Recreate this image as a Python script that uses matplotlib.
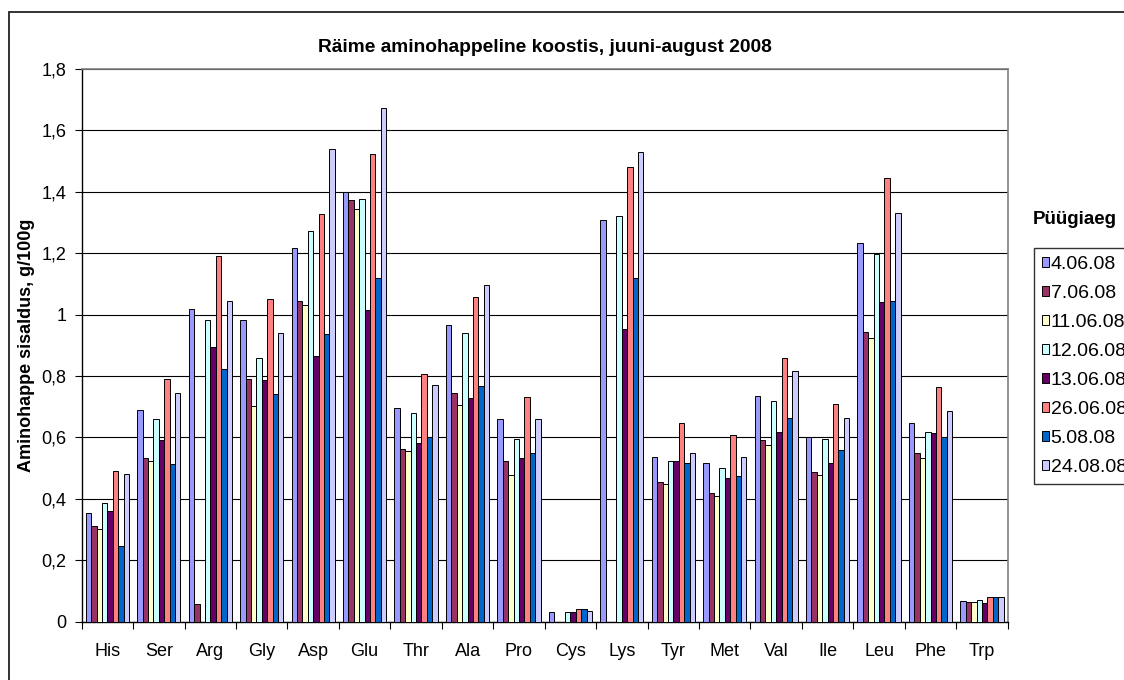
import numpy as np
import matplotlib
matplotlib.use("Agg")
import matplotlib.pyplot as plt
from matplotlib.patches import Rectangle
from matplotlib.ticker import FuncFormatter

plt.rcParams['font.family'] = ['Liberation Sans', 'DejaVu Sans']

categories = ['His', 'Ser', 'Arg', 'Gly', 'Asp', 'Glu', 'Thr', 'Ala', 'Pro',
              'Cys', 'Lys', 'Tyr', 'Met', 'Val', 'Ile', 'Leu', 'Phe', 'Trp']
dates = ['4.06.08', '7.06.08', '11.06.08', '12.06.08',
         '13.06.08', '26.06.08', '5.08.08', '24.08.08']

d0406 = [0.353, 0.691, 1.018, 0.982, 1.218, 1.401, 0.695, 0.967, 0.659,
         0.031, 1.309, 0.537, 0.518, 0.736, 0.600, 1.232, 0.646, 0.069]
d0706 = [0.313, 0.532, 0.058, 0.790, 1.046, 1.373, 0.563, 0.746, 0.523,
         0.0, 0.0, 0.455, 0.419, 0.592, 0.486, 0.944, 0.550, 0.064]
d1106 = [0.303, 0.523, 0.0, 0.704, 1.032, 1.344, 0.555, 0.705, 0.478,
         0.0, 0.0, 0.450, 0.409, 0.577, 0.478, 0.923, 0.532, 0.064]
d1206 = [0.386, 0.659, 0.982, 0.860, 1.274, 1.377, 0.681, 0.941, 0.595,
         0.031, 1.322, 0.523, 0.499, 0.718, 0.595, 1.199, 0.618, 0.072]
d1306 = [0.359, 0.591, 0.896, 0.787, 0.864, 1.014, 0.582, 0.728, 0.532,
         0.031, 0.954, 0.523, 0.468, 0.618, 0.518, 1.041, 0.614, 0.060]
d2606 = [0.491, 0.791, 1.192, 1.051, 1.327, 1.524, 0.808, 1.059, 0.731,
         0.041, 1.481, 0.646, 0.609, 0.860, 0.709, 1.445, 0.763, 0.082]
d0508 = [0.245, 0.513, 0.823, 0.741, 0.936, 1.118, 0.600, 0.768, 0.550,
         0.041, 1.118, 0.518, 0.473, 0.663, 0.559, 1.044, 0.600, 0.082]
d2408 = [0.480, 0.746, 1.046, 0.941, 1.541, 1.672, 0.772, 1.096, 0.659,
         0.036, 1.531, 0.550, 0.537, 0.818, 0.663, 1.332, 0.686, 0.082]

series = [d0406, d0706, d1106, d1206, d1306, d2606, d0508, d2408]
colors = ['#9999FF', '#993366', '#FFFFCC', '#CCFFFF',
          '#660066', '#FF8080', '#0066CC', '#CCCCFF']

W, H = 1124, 680
fig = plt.figure(figsize=(W / 100, H / 100), dpi=100)
ax = fig.add_axes([81.7 / W, 1 - 621.7 / H, (1007.7 - 81.7) / W, (621.7 - 69) / H])

# outer chart border (runs off right/bottom edge)
fig.patches.append(Rectangle((9 / W, -0.05), 1.2, 1 - 12 / H + 0.05,
                             transform=fig.transFigure, fill=False,
                             edgecolor='#222222', linewidth=1.3))

x = np.arange(len(categories))
bw = 0.105
n = len(series)
for i, (vals, c) in enumerate(zip(series, colors)):
    offs = (i - (n - 1) / 2) * bw
    ax.bar(x + offs, vals, width=bw, color=c, edgecolor='black',
           linewidth=0.7, label=dates[i], zorder=3)

ax.set_xlim(-0.5, len(categories) - 0.5)
ax.set_ylim(0, 1.8)
ax.set_yticks(np.arange(0, 1.81, 0.2))
ax.yaxis.set_major_formatter(FuncFormatter(
    lambda v, p: '0' if abs(v) < 1e-9 else ('%g' % round(v, 1)).replace('.', ',')))
ax.yaxis.grid(True, color='black', linewidth=0.8, zorder=0)

ax.set_xticks(np.arange(-0.5, len(categories), 1.0))
ax.set_xticklabels([])
ax.set_xticks(x, minor=True)
ax.set_xticklabels(categories, minor=True)
ax.tick_params(axis='x', which='major', direction='out', length=5, width=0.8)
ax.tick_params(axis='x', which='minor', length=0, pad=15, labelsize=13)
ax.tick_params(axis='y', direction='out', length=5, width=0.8, pad=6, labelsize=13)

for s in ['top', 'right']:
    ax.spines[s].set_color('#808080')
    ax.spines[s].set_linewidth(1.2)
for s in ['left', 'bottom']:
    ax.spines[s].set_color('black')
    ax.spines[s].set_linewidth(1.0)

fig.text(544.7 / W, 1 - 47 / H, 'Räime aminohappeline koostis, juuni-august 2008',
         ha='center', va='center', fontsize=13.8, fontweight='bold')
fig.text(27 / W, 1 - 345 / H, 'Aminohappe sisaldus, g/100g', rotation=90,
         ha='center', va='center', fontsize=13, fontweight='bold')
fig.text(1033 / W, 1 - 220 / H, 'Püügiaeg', ha='left', va='center',
         fontsize=13.5, fontweight='bold')

leg = fig.legend(loc='upper left', bbox_to_anchor=(1034 / W, 1 - 248 / H),
                 fontsize=14, frameon=True, fancybox=False, shadow=False,
                 handlelength=0.38, handleheight=0.38, handletextpad=0.08,
                 labelspacing=0.62, borderpad=0.4, borderaxespad=0)
leg.get_frame().set_edgecolor('black')
leg.get_frame().set_linewidth(1.0)

fig.savefig('out.png', dpi=100)
